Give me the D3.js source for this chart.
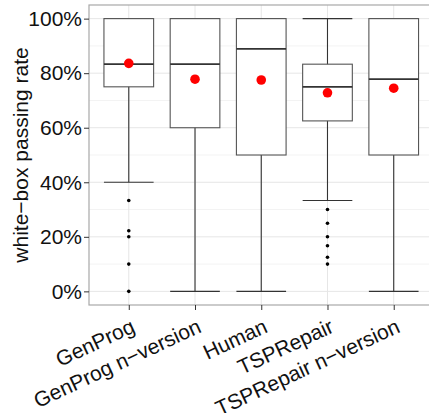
<!DOCTYPE html>
<html>
<head>
<meta charset="utf-8">
<script src="https://cdn.jsdelivr.net/npm/d3@7"></script>
<style>
  body { margin: 0; background: #fff; }
  svg { display: block; font-family: "Liberation Sans", Arial, sans-serif; }
</style>
</head>
<body>
<div id="chart"></div>
<script>
// tools / categories
var tools = ["GenProg", "GenProg n\u2212version", "Human", "TSPRepair", "TSPRepair n\u2212version"];
// box stats (fractions)
var lowWhisker = [0.40, 0.0, 0.0, 0.333, 0.0];
var q1 = [0.75, 0.60, 0.50, 0.625, 0.50];
var median = [0.833, 0.833, 0.889, 0.75, 0.778];
var q3 = [1.0, 1.0, 1.0, 0.833, 1.0];
var highWhisker = [1.0, 1.0, 1.0, 1.0, 1.0];
var means = [0.836, 0.778, 0.775, 0.728, 0.745];
var outliers = [
  [0.333, 0.222, 0.20, 0.10, 0.0],
  [],
  [],
  [0.30, 0.25, 0.20, 0.167, 0.125, 0.10],
  []
];
var yTicks = [0, 0.2, 0.4, 0.6, 0.8, 1.0];
var yMinor = [0.1, 0.3, 0.5, 0.7, 0.9];

var W = 429, H = 413;
var pLeft = 89, pTop = 5, pBottom = 305;
var pRight = 433.5;
var fs = 21;

var svg = d3.select("#chart").append("svg").attr("width", W).attr("height", H);

var x = d3.scalePoint().domain(tools).range([pLeft + 0.6 * 66.3, pRight - 0.6 * 66.3]);
var step = x.step();
var y = d3.scaleLinear().domain([-0.05, 1.05]).range([pBottom, pTop]);

var data = tools.map(function(t, i) {
  return {tool: t, lo: lowWhisker[i], q1: q1[i], med: median[i], q3: q3[i], hi: highWhisker[i], mean: means[i], out: outliers[i]};
});

// grid
var grid = svg.append("g");
grid.selectAll(".minor").data(yMinor).enter().append("line")
  .attr("x1", pLeft).attr("x2", pRight)
  .attr("y1", function(d) { return y(d); }).attr("y2", function(d) { return y(d); })
  .attr("stroke", "#f3f3f3").attr("stroke-width", 1);
grid.selectAll(".major").data(yTicks).enter().append("line")
  .attr("x1", pLeft).attr("x2", pRight)
  .attr("y1", function(d) { return y(d); }).attr("y2", function(d) { return y(d); })
  .attr("stroke", "#e6e6e6").attr("stroke-width", 1);
grid.selectAll(".vert").data(tools).enter().append("line")
  .attr("x1", function(d) { return x(d); }).attr("x2", function(d) { return x(d); })
  .attr("y1", pTop).attr("y2", pBottom)
  .attr("stroke", "#e6e6e6").attr("stroke-width", 1);

// boxes
var bw = step * 0.75;
var g = svg.selectAll(".box").data(data).enter().append("g").attr("class", "box");
g.append("line")
  .attr("x1", function(d) { return x(d.tool); }).attr("x2", function(d) { return x(d.tool); })
  .attr("y1", function(d) { return y(d.hi); }).attr("y2", function(d) { return y(d.lo); })
  .attr("stroke", "#333").attr("stroke-width", 1.1);
g.selectAll(".cap").data(function(d) { return [[d.tool, d.lo], [d.tool, d.hi]]; }).enter().append("line")
  .attr("x1", function(d) { return x(d[0]) - bw / 2; }).attr("x2", function(d) { return x(d[0]) + bw / 2; })
  .attr("y1", function(d) { return y(d[1]); }).attr("y2", function(d) { return y(d[1]); })
  .attr("stroke", "#333").attr("stroke-width", 1.1);
g.append("rect")
  .attr("x", function(d) { return x(d.tool) - bw / 2; })
  .attr("y", function(d) { return y(d.q3); })
  .attr("width", bw)
  .attr("height", function(d) { return y(d.q1) - y(d.q3); })
  .attr("fill", "#fff").attr("stroke", "#555").attr("stroke-width", 1.1);
g.append("line")
  .attr("x1", function(d) { return x(d.tool) - bw / 2; }).attr("x2", function(d) { return x(d.tool) + bw / 2; })
  .attr("y1", function(d) { return y(d.med); }).attr("y2", function(d) { return y(d.med); })
  .attr("stroke", "#333").attr("stroke-width", 1.8);
g.selectAll(".out").data(function(d) { return d.out.map(function(v) { return [d.tool, v]; }); }).enter().append("circle")
  .attr("cx", function(d) { return x(d[0]); }).attr("cy", function(d) { return y(d[1]); })
  .attr("r", 1.8).attr("fill", "#000");
g.append("circle")
  .attr("cx", function(d) { return x(d.tool); }).attr("cy", function(d) { return y(d.mean); })
  .attr("r", 4.8).attr("fill", "#ff0000");

// panel border
svg.append("rect").attr("x", pLeft).attr("y", pTop).attr("width", pRight - pLeft).attr("height", pBottom - pTop)
  .attr("fill", "none").attr("stroke", "#a8a8a8").attr("stroke-width", 1.2);

// axes
var yAxis = svg.append("g").attr("transform", "translate(" + pLeft + ",0)")
  .call(d3.axisLeft(y).tickValues(yTicks).tickSize(5).tickPadding(2).tickFormat(function(d) { return Math.round(d * 100) + "%"; }));
yAxis.select(".domain").remove();
yAxis.selectAll("line").attr("stroke", "#333");
yAxis.selectAll("text").attr("font-size", fs).attr("fill", "#111").style("font-family", "Liberation Sans, Arial, sans-serif");

var xAxis = svg.append("g").attr("transform", "translate(0," + pBottom + ")")
  .call(d3.axisBottom(x).tickSize(5).tickPadding(4));
xAxis.select(".domain").remove();
xAxis.selectAll("line").attr("stroke", "#333");
xAxis.selectAll("text")
  .attr("font-size", fs).attr("fill", "#111").style("font-family", "Liberation Sans, Arial, sans-serif")
  .attr("text-anchor", "end")
  .attr("dy", "0.7em")
  .attr("transform", "translate(-3,5) rotate(-25)");

svg.append("text")
  .attr("transform", "translate(28," + ((pTop + pBottom) / 2) + ") rotate(-90)")
  .attr("text-anchor", "middle")
  .attr("font-size", fs).attr("fill", "#111")
  .text("white\u2212box passing rate");
</script>
</body>
</html>
